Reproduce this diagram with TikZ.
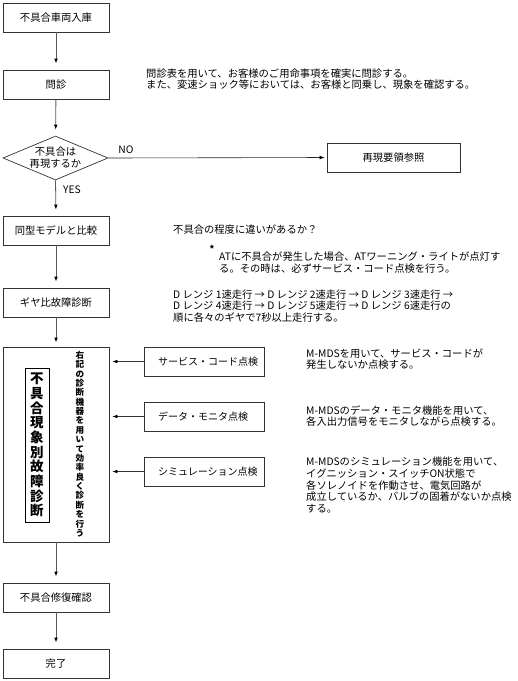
\documentclass[tikz,border=0pt]{standalone}
\usepackage{fontspec}
\setmainfont{Noto Sans CJK JP}
\usetikzlibrary{arrows.meta,shapes.geometric}
\newcommand{\mfs}{\fontsize{10.3}{11.7}\selectfont}
\begin{document}
\begin{tikzpicture}[x=1pt,y=-1pt,
  box/.style={draw=black!80, line width=0.7pt, minimum width=106pt, minimum height=29pt, inner sep=0pt, font=\mfs},
  sidebox/.style={draw=black!80, line width=0.7pt, minimum height=29pt, text width=120pt, inner xsep=0pt, inner ysep=0pt, align=left, font=\fontsize{10}{11}\selectfont},
  conn/.style={draw=black!65, line width=0.8pt, -{Latex[length=5pt,width=3.6pt,color=black]}, shorten >=6pt},
  sideconn/.style={draw=black!80, line width=0.6pt, -{Latex[length=5pt,width=3.6pt,color=black]}, shorten >=3pt},
  note/.style={anchor=west, align=left, inner sep=0pt, font=\mfs},
  lbl/.style={inner sep=0pt, font=\mfs}]
\useasboundingbox (0,0) rectangle (518,681);

% main column
\node[box] (b1) at (56,17.5) {不具合車両入庫};
\node[box] (b2) at (56,84.5) {問診};
\node[draw=black!80, line width=0.7pt, diamond, aspect=2.4, inner sep=0pt, minimum width=105pt, minimum height=44pt, align=center, font=\fontsize{10.3}{12}\selectfont] (d) at (55.5,158) {不具合は\\再現するか};
\node[box, minimum width=133pt] (rs) at (393.5,157.5) {再現要領参照};
\node[box] (b3) at (56,230.5) {同型モデルと比較};
\node[box] (b4) at (56,302.5) {ギヤ比故障診断};
\node[draw=black!80, line width=0.7pt, minimum width=106pt, minimum height=195pt, inner sep=0pt] (big) at (56,444.5) {};
\node[draw=black, line width=0.7pt, minimum width=24pt, minimum height=154pt, inner sep=0pt, align=center, font=\fontsize{13.5}{14.67}\selectfont\bfseries] (bt) at (37,445) {不\\具\\合\\現\\象\\別\\故\\障\\診\\断};
\node[inner sep=0pt, align=center, font=\fontsize{8.6}{9.37}\selectfont\bfseries] (vt) at (80,444) {右\\記\\の\\診\\断\\機\\器\\を\\用\\い\\て\\効\\率\\良\\く\\診\\断\\を\\行\\う};
\node[box] (b5) at (56,597.5) {不具合修復確認};
\node[box] (b6) at (56,663.5) {完了};

% side boxes
\node[sidebox] (s1) at (204,361.5) {\hspace*{14pt}サービス・コード点検};
\node[sidebox] (s2) at (204,416.5) {\hspace*{14pt}データ・モニタ点検};
\node[sidebox] (s3) at (204,471.5) {\hspace*{14pt}シミュレーション点検};

% connectors
\draw[conn] (b1) -- (b2);
\draw[conn] (b2) -- (d);
\draw[conn, shorten >=2pt, line width=0.6pt, draw=black!85] (d.east) -- (rs.west);
\draw[conn] (d.south) -- (b3.north);
\draw[conn] (b3) -- (b4);
\draw[conn, shorten >=4pt] (b4) -- (big);
\draw[conn] (big) -- (b5);
\draw[conn] (b5) -- (b6);
\draw[sideconn] (s1.west) -- (s1.west -| big.east);
\draw[sideconn] (s2.west) -- (s2.west -| big.east);
\draw[sideconn] (s3.west) -- (s3.west -| big.east);

% labels
\node[lbl] (no) at (126,150) {NO};
\node[lbl] (yes) at (72,190) {YES};

% notes
\node[note] (n1) at (146,79) {問診表を用いて、お客様のご用命事項を確実に問診する。\\また、変速ショック等においては、お客様と同乗し、現象を確認する。};
\node[note] (n2) at (173,230) {不具合の程度に違いがあるか？};
\node[inner sep=0pt, font=\fontsize{9}{10}\selectfont\bfseries] (ast) at (212,249) {*};
\node[note] (n3) at (219,262.5) {ATに不具合が発生した場合、ATワーニング・ライトが点灯す\\る。その時は、必ずサービス・コード点検を行う。};
\node[note] (n4) at (173,306) {D レンジ 1速走行 → D レンジ 2速走行 → D レンジ 3速走行 →\\D レンジ 4速走行 → D レンジ 5速走行 → D レンジ 6速走行の\\順に各々のギヤで7秒以上走行する。};
\node[note] (n5) at (306,359) {M-MDSを用いて、サービス・コードが\\発生しないか点検する。};
\node[note] (n6) at (306,416) {M-MDSのデータ・モニタ機能を用いて、\\各入出力信号をモニタしながら点検する。};
\node[note] (n7) at (306,485) {M-MDSのシミュレーション機能を用いて、\\イグニッション・スイッチON状態で\\各ソレノイドを作動させ、電気回路が\\成立しているか、バルブの固着がないか点検\\する。};
\end{tikzpicture}
\end{document}
